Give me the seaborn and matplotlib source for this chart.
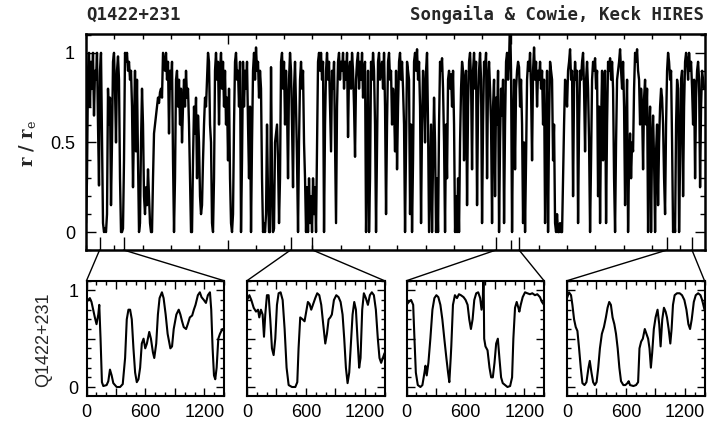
import numpy as np
import pandas as pd
import matplotlib
matplotlib.use("Agg")
import matplotlib.pyplot as plt
import seaborn as sns
from matplotlib.ticker import MultipleLocator, FixedLocator, FuncFormatter
from matplotlib.patches import ConnectionPatch

# ---------------- data ----------------
main_flux = [
    0.05,0.3,0.9,1.0,0.7,0.95,0.8,1.0,0.65,0.9,0.85,1.0,0.6,0.26,0.9,1.0,0.5,0.05,0.0,0.02,
    0.0,0.1,0.8,0.6,0.75,0.15,0.5,0.95,1.0,0.8,0.5,0.9,0.98,0.85,0.3,0.0,0.0,0.02,0.4,1.0,
    0.95,1.0,0.9,0.95,0.85,0.9,0.7,0.25,0.6,0.9,0.45,0.85,0.4,0.0,0.05,0.5,0.8,0.6,0.2,0.1,
    0.25,0.15,0.35,0.2,0.05,0.0,0.0,0.3,0.55,0.6,0.65,0.7,0.75,0.72,0.78,0.8,0.75,1.0,0.95,0.9,
    1.0,0.85,0.95,0.55,0.9,0.8,0.95,0.4,0.0,0.3,0.85,0.9,0.7,0.85,0.6,0.8,0.5,0.7,0.85,0.7,
    0.9,0.75,0.8,0.6,0.3,0.0,0.0,0.4,0.7,0.55,0.75,0.3,0.65,0.5,0.2,0.1,0.15,0.4,0.6,0.75,
    0.7,0.85,1.0,0.95,0.6,0.5,0.05,0.0,0.3,0.9,1.0,0.85,0.95,0.6,0.9,1.0,0.8,0.95,0.7,0.9,
    0.6,0.75,0.4,0.8,0.3,0.05,0.0,0.1,0.6,0.95,1.0,0.85,0.9,0.7,0.95,0.0,0.4,0.95,0.7,0.9,
    0.8,0.95,0.6,0.3,0.7,0.0,0.5,0.9,1.0,0.85,1.03,0.9,0.95,0.75,0.9,0.8,0.3,0.0,0.05,0.0,
    0.1,0.6,0.2,0.0,0.0,0.92,0.3,0.0,0.02,0.5,0.55,0.6,0.4,0.05,0.3,0.95,1.0,0.8,0.95,0.6,
    0.9,0.7,0.3,0.85,1.0,0.9,0.6,0.25,0.8,0.95,0.7,0.4,0.0,0.5,0.85,0.95,0.8,0.9,0.5,0.3,
    0.0,0.25,0.0,0.3,0.05,0.2,0.0,0.3,0.1,0.25,0.0,0.5,0.95,1.0,0.9,1.0,0.85,0.95,0.0,0.6,
    0.9,1.0,0.85,0.95,0.7,0.45,0.9,0.8,0.95,0.5,0.05,0.7,0.95,1.0,0.85,0.95,0.9,1.0,0.8,0.95,
    0.85,1.0,0.53,0.9,0.95,0.8,1.0,0.9,0.7,0.42,0.85,0.95,1.0,0.8,0.95,0.85,1.0,0.75,0.9,0.95,
    0.0,0.4,0.9,0.0,0.3,0.95,0.85,1.0,0.9,0.6,0.0,0.5,0.95,1.0,0.85,0.9,0.95,0.8,1.0,0.7,
    0.1,0.6,0.95,1.0,0.85,0.9,0.6,0.8,0.7,0.45,0.9,0.35,0.7,0.95,1.0,0.85,0.95,0.8,0.6,0.0,
    0.5,0.95,0.9,0.85,0.1,0.6,0.0,0.4,0.95,1.0,0.9,1.02,0.85,0.95,0.7,0.05,0.6,0.9,0.8,0.5,
    0.9,1.0,0.6,0.0,0.3,0.6,0.0,0.4,0.75,0.5,0.0,0.3,0.0,0.6,0.95,0.9,0.97,0.8,0.5,0.0,
    0.6,0.3,0.85,0.9,0.8,0.88,0.7,0.9,0.6,0.0,0.2,0.0,0.3,0.0,0.5,0.8,0.95,0.9,0.4,0.85,
    0.9,0.15,0.7,0.95,1.0,0.85,0.35,0.9,1.0,0.8,0.95,0.15,0.7,0.9,1.0,0.85,0.05,0.6,0.95,0.9,
    1.0,0.3,0.85,0.95,0.8,0.6,0.05,0.7,0.85,0.2,0.75,0.6,0.9,0.0,0.5,0.8,0.65,0.85,0.05,0.6,
    0.95,1.0,0.85,0.95,1.2,0.9,0.0,0.6,0.85,0.35,0.8,0.9,0.95,0.92,0.7,0.85,0.6,0.05,0.5,0.0,
    0.4,0.85,0.95,0.9,1.0,0.8,0.4,0.9,1.03,0.85,0.95,0.7,0.9,0.85,0.95,0.8,0.9,0.6,0.85,0.05,
    0.5,0.9,0.0,0.6,0.95,0.9,0.85,0.4,0.6,0.05,0.0,0.1,0.0,0.0,0.05,0.0,0.0,0.3,0.6,0.85,
    0.8,0.7,0.9,0.95,1.02,0.85,0.9,0.2,0.8,0.95,0.85,0.9,0.05,0.6,0.9,0.85,0.95,1.0,0.8,0.45,
    0.85,0.95,0.8,0.5,0.0,0.4,0.85,0.95,0.9,0.97,0.8,0.9,0.2,0.7,0.05,0.6,0.9,0.4,0.85,0.9,
    0.05,0.6,0.95,0.9,0.97,0.85,0.95,0.8,0.3,0.0,0.5,0.85,0.9,0.95,1.02,0.9,0.8,0.95,0.7,0.15,
    0.6,0.85,0.0,0.4,0.55,0.3,0.5,0.45,0.8,1.0,0.95,1.02,0.9,0.85,0.6,0.8,0.7,0.35,0.75,0.85,
    0.6,0.8,0.0,0.55,0.7,0.0,0.5,0.65,0.4,0.0,0.45,0.6,0.15,0.5,0.7,0.8,0.75,0.6,0.3,0.1,
    0.6,0.9,1.0,0.95,0.85,0.9,0.5,0.0,0.1,0.0,0.6,0.85,0.8,0.0,0.4,0.85,0.9,0.2,0.7,0.95,
    1.0,0.95,0.85,1.0,0.9,0.95,0.8,0.6,0.85,0.3,0.75,0.9,0.95,0.85,0.25,0.7,0.9,0.85,0.8,
]
main_wave_start = 4950.0          # Angstrom
main_wave_step = 1.0 / 2.83       # Angstrom per sample
main_xlim = (4950.0, 5168.7)

# wavelength ranges expanded in the four lower panels
zoom_lo = [4954.8, 5022.3, 5094.9, 5155.3]
zoom_hi = [4963.3, 5030.0, 5103.0, 5164.1]

inset1_vel = [0,17,34,51,85,102,120,130,143,157,171,205,222,239,256,273,290,307,342,369,
              393,410,427,444,461,478,495,512,529,546,563,581,598,615,639,656,676,690,710,727,
              744,768,785,806,826,854,871,888,915,939,956,973,990,1014,1031,1052,1076,1093,1110,1134,
              1154,1171,1195,1216,1236,1257,1270,1284,1298,1311,1325,1342,1359,1383,1400]
inset1_flux = [0.88,0.90,0.92,0.88,0.72,0.65,0.75,0.85,0.5,0.05,0.01,0.02,0.06,0.18,0.12,0.04,0.02,0.0,0.0,0.03,
               0.3,0.7,0.8,0.8,0.7,0.4,0.15,0.05,0.08,0.2,0.45,0.5,0.4,0.45,0.57,0.5,0.36,0.3,0.45,0.75,
               0.92,0.98,0.92,0.75,0.55,0.4,0.42,0.6,0.75,0.8,0.75,0.68,0.62,0.6,0.65,0.72,0.74,0.8,0.85,0.95,
               0.98,0.93,0.9,0.87,0.95,0.98,0.8,0.4,0.12,0.08,0.2,0.5,0.55,0.6,0.58]

inset2_vel = [0,24,44,68,92,112,125,142,159,173,186,203,220,237,254,271,288,305,322,342,
              363,383,403,424,458,492,512,525,542,566,586,603,620,637,654,671,695,715,736,756,
              776,797,814,831,848,864,885,909,932,953,973,990,1007,1024,1041,1058,1075,1092,1109,1125,
              1142,1156,1173,1190,1210,1231,1251,1271,1292,1312,1332,1349,1366,1383,1400]
inset2_flux = [0.9,0.95,0.9,0.82,0.78,0.8,0.72,0.8,0.75,0.52,0.75,0.95,0.95,0.7,0.4,0.33,0.5,0.85,0.97,0.98,
               0.9,0.6,0.2,0.02,0.0,0.0,0.05,0.4,0.72,0.7,0.68,0.78,0.88,0.86,0.8,0.85,0.92,0.97,0.95,0.85,
               0.65,0.45,0.55,0.7,0.72,0.75,0.9,0.95,0.93,0.88,0.75,0.5,0.2,0.04,0.15,0.45,0.75,0.88,0.8,0.5,
               0.2,0.3,0.8,0.97,0.92,0.85,0.95,0.98,0.95,0.8,0.5,0.3,0.25,0.3,0.35]

inset3_vel = [0,24,47,68,81,95,115,142,162,183,193,206,223,243,264,284,304,324,345,365,
              385,406,423,436,450,456,473,493,514,534,554,581,602,622,639,656,673,690,710,730,
              750,764,777,784,791,804,825,845,862,879,896,913,930,946,963,980,1004,1028,1055,1075,
              1088,1105,1122,1139,1149,1163,1183,1207,1230,1257,1281,1308,1332,1359,1379,1400]
inset3_flux = [0.85,0.88,0.9,0.85,0.5,0.15,0.02,0.0,0.02,0.15,0.22,0.12,0.25,0.5,0.8,0.92,0.95,0.93,0.85,0.7,
               0.5,0.3,0.15,0.05,0.3,0.42,0.85,0.95,0.92,0.96,0.95,0.93,0.9,0.85,0.7,0.6,0.7,0.9,0.97,0.98,
               0.92,0.8,0.9,1.25,0.5,0.42,0.38,0.2,0.1,0.1,0.25,0.45,0.5,0.3,0.1,0.04,0.02,0.0,0.01,0.1,
               0.5,0.82,0.88,0.82,0.78,0.85,0.93,0.98,0.97,0.96,0.97,0.95,0.96,0.93,0.88,0.85]

inset4_vel = [0,20,41,55,72,89,106,123,140,157,178,198,219,232,249,266,283,301,318,335,
              355,376,396,413,430,447,464,482,499,516,533,550,574,594,615,628,642,676,703,724,
              738,755,772,792,809,826,840,854,867,884,902,922,939,953,970,987,1004,1018,1035,1052,
              1065,1079,1096,1120,1147,1171,1195,1216,1236,1253,1270,1291,1311,1335,1359,1376,1400]
inset4_flux = [0.92,0.98,0.95,0.85,0.7,0.62,0.58,0.4,0.2,0.04,0.02,0.05,0.2,0.27,0.15,0.05,0.02,0.05,0.2,0.4,
               0.55,0.62,0.72,0.82,0.88,0.85,0.72,0.65,0.55,0.4,0.2,0.06,0.02,0.02,0.04,0.06,0.02,0.01,0.02,0.05,
               0.4,0.47,0.5,0.6,0.55,0.5,0.4,0.2,0.35,0.6,0.72,0.8,0.65,0.42,0.7,0.82,0.78,0.72,0.6,0.45,
               0.6,0.85,0.95,0.97,0.97,0.95,0.9,0.8,0.65,0.6,0.7,0.88,0.95,0.97,0.95,0.9,0.8]

insets = [(inset1_vel, inset1_flux), (inset2_vel, inset2_flux),
          (inset3_vel, inset3_flux), (inset4_vel, inset4_flux)]

title_left = "Q1422+231"
title_right = "Songaila & Cowie, Keck HIRES"
main_ylabel = r"r / r$_{\rm e}$"
inset_ylabel = "Q1422+231"

# ---------------- style ----------------
sns.set_theme(style="ticks")
plt.rcParams["font.family"] = ["Liberation Sans", "DejaVu Sans"]
plt.rcParams["mathtext.fontset"] = "dejavuserif"
plt.rcParams["axes.edgecolor"] = "black"
plt.rcParams["xtick.color"] = "black"
plt.rcParams["ytick.color"] = "black"

W, H = 716, 423
fig = plt.figure(figsize=(W / 100, H / 100), dpi=100)
fig.patch.set_facecolor("white")

def fx(px):
    return px / W

def fy(py):
    return 1 - py / H

# main panel
ax = fig.add_axes([fx(86), fy(250), fx(619), 216 / H])
wave = main_wave_start + main_wave_step * np.arange(len(main_flux))
df = pd.DataFrame({"wave": wave, "flux": main_flux})
sns.lineplot(data=df, x="wave", y="flux", ax=ax, color="black", lw=1.7,
             estimator=None, sort=False)
ax.set_xlim(*main_xlim)
ax.set_ylim(-0.1, 1.105)
ax.set_xlabel("")
ax.set_ylabel("")
ax.xaxis.set_major_locator(MultipleLocator(100))
ax.xaxis.set_minor_locator(MultipleLocator(10))
ax.yaxis.set_major_locator(FixedLocator([0, 0.5, 1]))
ax.yaxis.set_minor_locator(MultipleLocator(0.1))
ax.yaxis.set_major_formatter(FuncFormatter(lambda v, _: f"{v:g}"))
ax.tick_params(which="both", direction="in", top=True, right=True,
               labelbottom=False, width=1.0)
ax.tick_params(which="major", length=7, labelsize=13, pad=8)
ax.tick_params(which="minor", length=3.5)
for s in ax.spines.values():
    s.set_linewidth(1.8)
# markers for zoomed regions
xt = ax.get_xaxis_transform()
ax.vlines(zoom_lo + zoom_hi, 0, 0.058, transform=xt, color="black", lw=1.0)

# insets
inset_left = [86.5, 247.0, 406.5, 567.0]
inset_w = 137.5
for i, (vel, flux) in enumerate(insets):
    iax = fig.add_axes([fx(inset_left[i]), fy(395.7), fx(inset_w), 115 / H])
    dfi = pd.DataFrame({"vel": vel, "flux": flux})
    sns.lineplot(data=dfi, x="vel", y="flux", ax=iax, color="black", lw=1.5,
                 estimator=None, sort=False)
    iax.set_xlim(0, 1400)
    iax.set_ylim(-0.09, 1.10)
    iax.set_xlabel("")
    iax.set_ylabel("")
    iax.xaxis.set_major_locator(FixedLocator([0, 300, 600, 900, 1200]))
    iax.xaxis.set_minor_locator(MultipleLocator(100))
    iax.xaxis.set_major_formatter(FuncFormatter(lambda v, _: f"{v:g}" if v % 600 == 0 else ""))
    iax.yaxis.set_major_locator(FixedLocator([0, 0.5, 1]))
    iax.yaxis.set_minor_locator(MultipleLocator(0.1))
    iax.yaxis.set_major_formatter(FuncFormatter(lambda v, _: f"{v:g}" if v in (0, 1) else ""))
    iax.tick_params(which="both", direction="in", top=True, right=True, width=1.0)
    iax.tick_params(which="major", length=5.5, labelsize=13, pad=6)
    iax.tick_params(which="minor", length=3)
    if i > 0:
        iax.tick_params(labelleft=False)
    for s in iax.spines.values():
        s.set_linewidth(1.5)
    for xa, xb in ((zoom_lo[i], 0.0), (zoom_hi[i], 1.0)):
        con = ConnectionPatch(xyA=(xa, 0.0), coordsA=xt, xyB=(xb, 1.0),
                              coordsB=iax.transAxes, color="black", lw=1.0)
        fig.add_artist(con)

# texts
fig.text(fx(86), fy(15), title_left, ha="left", va="center",
         family="DejaVu Sans Mono", fontsize=12.5, fontweight="bold")
fig.text(fx(704), fy(15), title_right, ha="right", va="center",
         family="DejaVu Sans Mono", fontsize=12.5, fontweight="bold")
fig.text(fx(27), fy(143), main_ylabel, rotation=90, ha="center", va="center",
         family="DejaVu Serif", fontsize=13, fontweight="bold")
fig.text(fx(44), fy(340), inset_ylabel, rotation=90, ha="center", va="center",
         fontsize=13)

fig.savefig("out.png", dpi=100, facecolor="white")
